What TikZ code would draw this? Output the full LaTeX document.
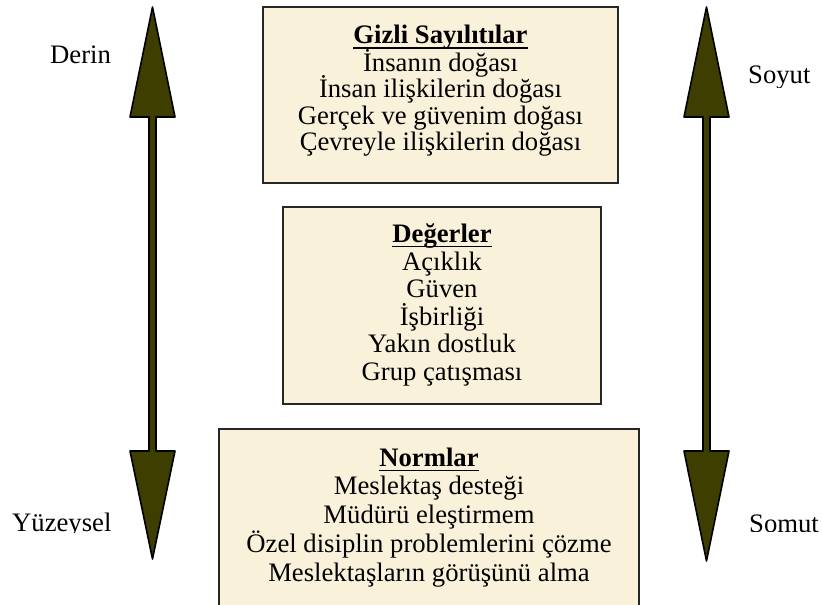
\documentclass[tikz,border=0pt]{standalone}
\usepackage{fontspec}
\setmainfont{Liberation Serif}
\definecolor{parch}{RGB}{250,241,218}
\definecolor{arrowolive}{RGB}{62,62,0}
\tikzset{
  panel/.style={draw=black!85, line width=1.3pt, fill=parch},
  rowtext/.style={inner sep=0pt, anchor=base, font=\fontsize{26.67}{30}\selectfont},
  rowhead/.style={rowtext, font=\fontsize{26.67}{30}\selectfont\bfseries},
  sidelabel/.style={inner sep=0pt, anchor=base west, font=\fontsize{26.67}{30}\selectfont},
  dblarrow/.style={fill=arrowolive, draw=black, line width=1.6pt, line join=round},
  headrule/.style={line width=1.8pt}
}
\begin{document}
\begin{tikzpicture}[x=1pt,y=-1pt]
\useasboundingbox (0,0) rectangle (822,605);
\clip (0,0) rectangle (822,605);

% vertical double arrows
\foreach \cx/\tip in {152.5/559, 706.5/561}{
  \draw[dblarrow] (\cx,7) -- (\cx+22.5,117) -- (\cx+3.5,117) -- (\cx+3.5,451)
    -- (\cx+22.5,451) -- (\cx,\tip) -- (\cx-22.5,451) -- (\cx-3.5,451)
    -- (\cx-3.5,117) -- (\cx-22.5,117) -- cycle;
}

% side labels
\node[sidelabel] (derin) at (50,63) {Derin};
\begin{scope}
  \clip (740,40) rectangle (822,87);
  \node[sidelabel] (soyut) at (748,83) {Soyut};
\end{scope}
\begin{scope}
  \clip (0,490) rectangle (130,532.5);
  \node[sidelabel] (yuzeysel) at (12,531) {Yüzeysel};
\end{scope}
\begin{scope}
  \clip (740,490) rectangle (822,531.5);
  \node[sidelabel] (somut) at (749,532) {Somut};
\end{scope}

% top panel
\draw[panel] (263,7) rectangle (618,183);
\node[rowhead] (g0) at (440.5,43.5) {Gizli Sayılıtılar};
\draw[headrule] ([yshift=-4.5pt]g0.base west) -- ([yshift=-4.5pt]g0.base east);
\node[rowtext] (g1) at (440.5,71)    {İnsanın doğası};
\node[rowtext] (g2) at (440.5,97.5)  {İnsan ilişkilerin doğası};
\node[rowtext] (g3) at (440.5,124)   {Gerçek ve güvenim doğası};
\node[rowtext] (g4) at (440.5,150.5) {Çevreyle ilişkilerin doğası};

% middle panel
\draw[panel] (283,207) rectangle (601,404);
\node[rowhead] (d0) at (442,242) {Değerler};
\draw[headrule] ([yshift=-4.5pt]d0.base west) -- ([yshift=-4.5pt]d0.base east);
\node[rowtext] (d1) at (442,270)   {Açıklık};
\node[rowtext] (d2) at (442,297.5) {Güven};
\node[rowtext] (d3) at (442,325)   {İşbirliği};
\node[rowtext] (d4) at (442,352.5) {Yakın dostluk};
\begin{scope}
  \clip (290,330) rectangle (595,385);
  \node[rowtext] (d5) at (442,380) {Grup çatışması};
\end{scope}

% bottom panel
\draw[panel] (219,429) rectangle (639,620);
\node[rowhead] (n0) at (429,466) {Normlar};
\draw[headrule] ([yshift=-4.5pt]n0.base west) -- ([yshift=-4.5pt]n0.base east);
\node[rowtext] (n1) at (429,494.5) {Meslektaş desteği};
\node[rowtext] (n2) at (429,523)   {Müdürü eleştirmem};
\node[rowtext] (n3) at (429,552)   {Özel disiplin problemlerini çözme};
\node[rowtext] (n4) at (429,581)   {Meslektaşların görüşünü alma};
\end{tikzpicture}
\end{document}
